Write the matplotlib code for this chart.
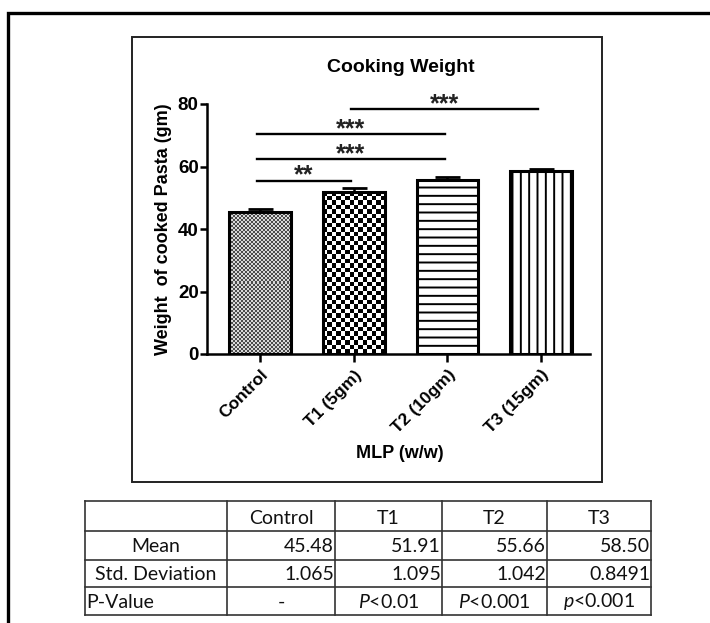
import numpy as np
import matplotlib
matplotlib.use("Agg")
import matplotlib.pyplot as plt

plt.rcParams["font.family"] = ["Liberation Sans", "DejaVu Sans"]
plt.rcParams["mathtext.fontset"] = "custom"
plt.rcParams["mathtext.rm"] = "Lato"
plt.rcParams["mathtext.it"] = "Lato:italic"
plt.rcParams["hatch.color"] = "#6a6a6a"
plt.rcParams["hatch.linewidth"] = 1.4

# data
groups = ["Control", "T1 (5gm)", "T2 (10gm)", "T3 (15gm)"]
means = [45.48, 51.91, 55.66, 58.50]
sds = [1.065, 1.095, 1.042, 0.8491]
# (from, to, line height, label)
sig = [(0, 1, 55.5, "**"), (0, 2, 62.4, "***"), (0, 2, 70.3, "***"), (1, 3, 78.3, "***")]

tbl_cols = ["", "Control", "T1", "T2", "T3"]
tbl_mean = ["45.48", "51.91", "55.66", "58.50"]
tbl_sd = ["1.065", "1.095", "1.042", "0.8491"]
tbl_p = ["-", r"$\it{P}$<0.01", r"$\it{P}$<0.001", r"$\it{p}$<0.001"]

W, H = 710, 623
fig = plt.figure(figsize=(W / 100, H / 100), dpi=100)

# background axes in pixel coords for frames and table
bg = fig.add_axes([0, 0, 1, 1])
bg.set_xlim(0, W)
bg.set_ylim(H, 0)
bg.axis("off")
bg.plot([8, 8, W], [H, 13, 13], color="black", lw=2.4, solid_joinstyle="miter")
bg.add_patch(plt.Rectangle((132, 37), 470, 445, fill=False, ec="#222222", lw=1.4))

ax = fig.add_axes([207 / W, 1 - 354 / H, 383 / W, 250 / H])
ax.set_xlim(-0.565, 3.52)
ax.set_ylim(0, 80)
x = np.arange(len(groups))
bars = ax.bar(x, means, width=0.66, color="none", edgecolor="black", linewidth=2.2, zorder=2)
ax.errorbar(x, means, yerr=[np.zeros(len(sds)), sds], fmt="none", ecolor="black",
            elinewidth=1.8, capsize=9, capthick=2.0, zorder=1)

# fills: checkerboards for first two, hatches for the rest
fig.canvas.draw()
for b, cell, dark, light in [(bars[0], 2.0, 0.3, 0.85), (bars[1], 4.5, 0.0, 1.0)]:
    x0, y0, w, h = b.get_x(), b.get_y(), b.get_width(), b.get_height()
    p0 = ax.transData.transform((x0, y0))
    p1 = ax.transData.transform((x0 + w, y0 + h))
    nx = max(1, int(round(abs(p1[0] - p0[0]) / cell)))
    ny = max(1, int(round(abs(p1[1] - p0[1]) / cell)))
    ii, jj = np.indices((ny, nx))
    img = np.where((ii + jj) % 2 == 0, dark, light)
    im = ax.imshow(img, extent=(x0, x0 + w, y0, y0 + h), cmap="gray", vmin=0, vmax=1,
                   aspect="auto", interpolation="nearest", zorder=1.5)
    im.set_clip_path(b)
bars[2].set_hatch("--")
bars[3].set_hatch("||")
ax.set_xlim(-0.565, 3.52)
ax.set_ylim(0, 80)

for i, j, yv, lab in sig:
    ax.plot([x[i] - 0.03, x[j] - 0.03], [yv, yv], color="black", lw=1.7, clip_on=False)
    ax.text((x[i] + x[j]) / 2 - 0.03, yv - 0.6, lab, ha="center", va="baseline",
            fontsize=18, fontweight="bold", color="#222222")

for s in ["top", "right"]:
    ax.spines[s].set_visible(False)
for s in ["left", "bottom"]:
    ax.spines[s].set_linewidth(1.8)
ax.set_yticks([0, 20, 40, 60, 80])
ax.set_xticks(x)
ax.set_xticklabels(groups, rotation=45, ha="right", rotation_mode="anchor",
                   fontsize=12.5, fontweight="bold")
ax.tick_params(axis="both", width=1.8, length=6, direction="out")
ax.tick_params(axis="y", labelsize=13.5, length=5, pad=1)
for t in ax.get_yticklabels():
    t.set_fontweight("bold")
ax.set_ylabel("Weight  of cooked Pasta (gm)", fontsize=13, fontweight="bold", labelpad=4)
fig.text(401 / W, 1 - 68 / H, "Cooking Weight", ha="center", va="center",
         fontsize=14, fontweight="bold")
fig.text(400 / W, 1 - 453 / H, "MLP (w/w)", ha="center", va="center",
         fontsize=13, fontweight="bold")

# table
cx = [85, 227, 335, 442, 547, 651]
ry = [501, 531, 560, 587, 615]
for xv in cx:
    bg.plot([xv, xv], [ry[0], ry[-1]], color="#333333", lw=1.2)
for yv in ry:
    bg.plot([cx[0], cx[-1]], [yv, yv], color="#333333", lw=1.2)
tf = dict(fontsize=14, family=["Lato", "DejaVu Sans"], va="center", color="#111111")
for k in range(1, 5):
    bg.text((cx[k] + cx[k + 1]) / 2, (ry[0] + ry[1]) / 2 + 2, tbl_cols[k], ha="center", **tf)
bg.text((cx[0] + cx[1]) / 2, (ry[1] + ry[2]) / 2 + 1, "Mean", ha="center", **tf)
bg.text((cx[0] + cx[1]) / 2, (ry[2] + ry[3]) / 2 + 1, "Std. Deviation", ha="center", **tf)
bg.text(cx[0] + 1, (ry[3] + ry[4]) / 2 + 1, "P-Value", ha="left", **tf)
for k in range(4):
    bg.text(cx[k + 2] - 1, (ry[1] + ry[2]) / 2 + 1, tbl_mean[k], ha="right", **tf)
    bg.text(cx[k + 2] - 1, (ry[2] + ry[3]) / 2 + 1, tbl_sd[k], ha="right", **tf)
    bg.text((cx[k + 1] + cx[k + 2]) / 2, (ry[3] + ry[4]) / 2 + 1, tbl_p[k], ha="center", **tf)

fig.savefig("out.png", dpi=100)
